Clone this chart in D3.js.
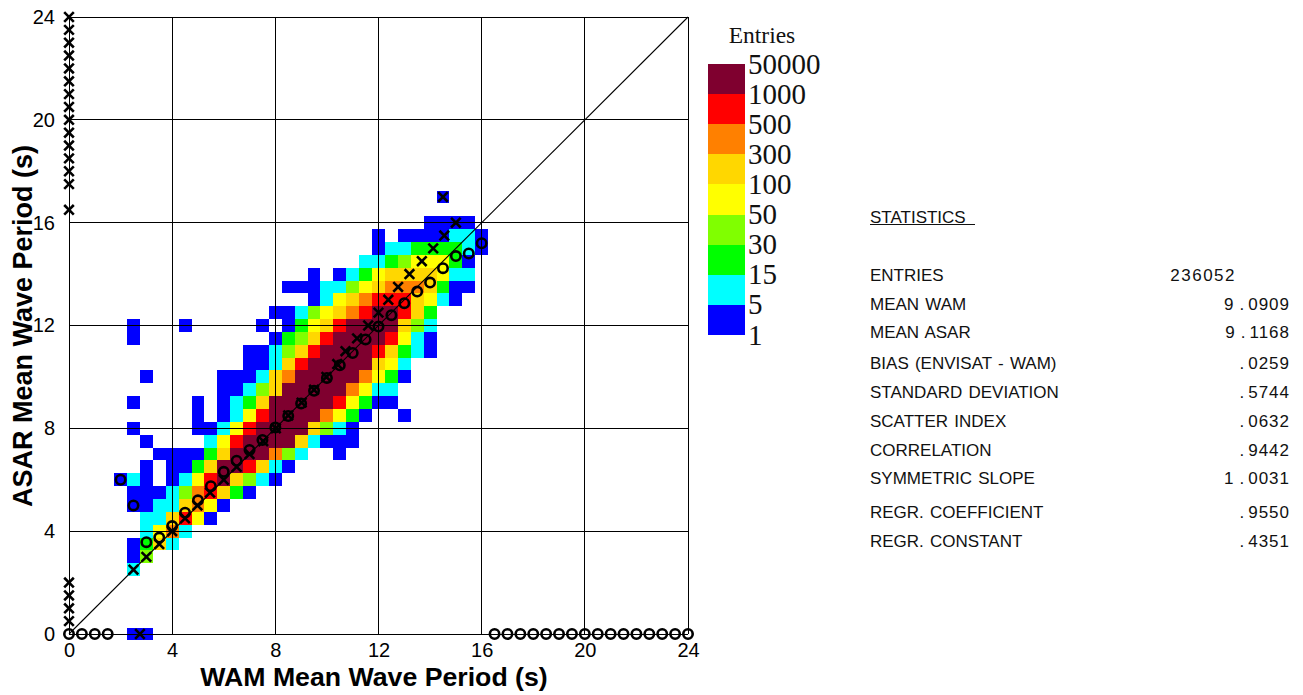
<!DOCTYPE html>
<html><head><meta charset="utf-8">
<script src="https://cdn.jsdelivr.net/npm/d3@7"></script>
<style>html,body{margin:0;padding:0;background:#fff;overflow:hidden}svg{display:block}</style>
</head><body><svg id="c" width="1303" height="695"></svg>
<script>
// Level of each 0.5 s bin: 0 = empty, 1..9 = legend band from the bottom. [ASAR period, first WAM period, levels]
const heatRows = [
 [0,   2.5, [1,1]],
 [2.5, 2.5, [2]],
 [3,   2.5, [1,4]],
 [3.5, 2.5, [1,3,6,2]],
 [4,   3,   [2,5,7,2]],
 [4.5, 3,   [2,2,6,8,5,1]],
 [5,   2.5, [1,1,2,2,6,7,5,1]],
 [5.5, 2.5, [1,1,1,2,4,7,8,6,3,1]],
 [6,   2,   [1,2,1,0,1,2,5,8,9,6,4,2,1]],
 [6.5, 3,   [1,0,1,1,3,6,9,9,8,6,2,1]],
 [7,   3.5, [1,1,1,1,3,6,9,9,9,7,4,2,0,0,1]],
 [7.5, 3,   [1,0,0,0,0,2,5,8,9,9,9,9,6,2,1,1,1]],
 [8,   2.5, [1,0,0,0,0,1,1,2,5,8,9,9,9,9,6,4,2,1]],
 [8.5, 5,   [1,0,1,2,5,8,9,9,9,9,7,5,3,1,0,0,1]],
 [9,   2.5, [1,0,0,0,0,1,0,1,2,3,6,9,9,9,9,9,8,5,3,1,1]],
 [9.5, 6,   [1,1,2,4,6,9,9,9,9,9,7,5,2,2]],
 [10,  3,   [1,0,0,0,0,0,1,1,1,2,6,7,9,9,9,9,9,7,5,3,1]],
 [10.5,7,   [1,1,2,6,8,9,9,9,9,9,6,5,2]],
 [11,  7,   [1,1,2,4,6,8,9,9,9,9,8,6,3,2,1]],
 [11.5,2.5, [1,0,0,0,0,0,0,0,0,0,0,1,3,4,6,8,9,9,9,9,8,5,2,1]],
 [12,  2.5, [1,0,0,0,1,0,0,0,0,0,1,0,1,3,5,6,8,9,9,9,9,6,4,2]],
 [12.5,8,   [1,1,2,4,5,6,7,8,9,9,8,6,3]],
 [13,  9.5, [1,2,5,6,7,8,8,8,6,5,2,1]],
 [13.5,8.5, [1,1,1,2,2,4,5,6,7,7,7,6,3,1,1]],
 [14,  9.5, [1,0,1,2,3,5,6,6,6,6,5,2,2]],
 [14.5,11.5,[2,2,3,4,5,5,5,3,1]],
 [15,  12,  [1,2,2,3,3,3,3,2,1]],
 [15.5,12,  [1,0,1,1,1,1,2,2,1]],
 [16,  14,  [1,1,1,1]],
 [17,  14.5,[1]]
];
const legendLabels = ["50000","1000","500","300","100","50","30","15","5","1"];
const legendColors = ["#7f002f","#ff0000","#ff8000","#ffd700","#ffff00","#80ff00","#00ff00","#00ffff","#0000ff"];
const axisTicks = [0,4,8,12,16,20,24];
// mean ASAR per WAM bin (circles)
const circleX = [0,0.5,1,1.5,2,2.5,3,3.5,4,4.5,5,5.5,6,6.5,7,7.5,8,8.5,9,9.5,10,10.5,11,11.5,12,12.5,13,13.5,14,14.5,15,15.5,16,16.5,17,17.5,18,18.5,19,19.5,20,20.5,21,21.5,22,22.5,23,23.5,24];
const circleY = [0,0,0,0,6,5,3.57,3.75,4.2,4.72,5.2,5.75,6.31,6.74,7.16,7.55,8.03,8.48,8.97,9.46,9.96,10.45,10.93,11.46,11.96,12.4,12.87,13.32,13.67,14.23,14.7,14.8,15.2,0,0,0,0,0,0,0,0,0,0,0,0,0,0,0,0];
// mean WAM per ASAR bin (crosses)
const crossY = [0,0.5,1,1.5,2,2.5,3,3.5,4,4.5,5,5.5,6,6.5,7,7.5,8,8.5,9,9.5,10,10.5,11,11.5,12,12.5,13,13.5,14,14.5,15,15.5,16,16.5,17,17.5,18,18.5,19,19.5,20,20.5,21,21.5,22,22.5,23,23.5,24];
const crossX = [2.75,0,0,0,0,2.5,3,3.5,4,4.5,4.98,5.47,6,6.5,7,7.53,8.02,8.5,9.02,9.5,9.98,10.4,10.72,11.17,11.6,12,12.38,12.76,13.2,13.68,14.12,14.55,15,0,14.5,0,0,0,0,0,0,0,0,0,0,0,0,0,0];
const statLabels = ["ENTRIES","MEAN WAM","MEAN ASAR","BIAS (ENVISAT - WAM)","STANDARD DEVIATION","SCATTER INDEX","CORRELATION","SYMMETRIC SLOPE","REGR. COEFFICIENT","REGR. CONSTANT"];
const statValues = ["236052","9.0909","9.1168",".0259",".5744",".0632",".9442","1.0031",".9550",".4351"];

const svg = d3.select("#c");
const x = d3.scaleLinear().domain([0,24]).range([69,688]);
const y = d3.scaleLinear().domain([0,24]).range([634,17]);
const sans = "'Liberation Sans',Arial,sans-serif", serif = "'Liberation Serif','Times New Roman',serif";
const bandColor = d3.scaleOrdinal().domain([9,8,7,6,5,4,3,2,1]).range(legendColors);

// heat cells, centred on the bin value
const cells = heatRows.flatMap(([v,x0,lv]) => lv.map((l,k)=>({xv:x0+k*0.5,yv:v,l})).filter(d=>d.l>0));
svg.append("g").attr("shape-rendering","crispEdges").selectAll("rect").data(cells).join("rect")
  .attr("x",d=>x(d.xv-0.25)).attr("width",d=>x(d.xv+0.25)-x(d.xv-0.25))
  .attr("y",d=>y(d.yv+0.25)).attr("height",d=>y(d.yv-0.25)-y(d.yv+0.25))
  .attr("fill",d=>bandColor(d.l));

// grid + frame
const gridG = svg.append("g").attr("stroke","#000").attr("stroke-width",1).attr("shape-rendering","crispEdges");
gridG.selectAll(".v").data(axisTicks).join("line").attr("x1",d=>x(d)).attr("x2",d=>x(d)).attr("y1",y(0)).attr("y2",y(24));
gridG.selectAll(".h").data(axisTicks).join("line").attr("y1",d=>y(d)).attr("y2",d=>y(d)).attr("x1",x(0)).attr("x2",x(24));
svg.append("line").attr("x1",x(0)).attr("y1",y(0)).attr("x2",x(24)).attr("y2",y(24)).attr("stroke","#000").attr("stroke-width",1.1);

// axes (labels only)
const xAxis = d3.axisBottom(x).tickValues(axisTicks).tickSize(0).tickPadding(9);
const yAxis = d3.axisLeft(y).tickValues(axisTicks).tickSize(0).tickPadding(14);
for (const [ax,tr] of [[xAxis,`translate(0,${y(0)})`],[yAxis,`translate(${x(0)},0)`]]) {
  const g = svg.append("g").attr("transform",tr).call(ax);
  g.select(".domain").remove();
  g.selectAll("text").attr("font-family",sans).attr("font-size",20).attr("fill","#000");
}
svg.append("text").attr("x",374).attr("y",686).attr("text-anchor","middle").attr("font-family",sans).attr("font-weight","bold").attr("font-size",26.7).text("WAM Mean Wave Period (s)");
svg.append("text").attr("transform","translate(32,326) rotate(-90)").attr("text-anchor","middle").attr("font-family",sans).attr("font-weight","bold").attr("font-size",27).text("ASAR Mean Wave Period (s)");

// markers
const mk = svg.append("g").attr("fill","none").attr("stroke","#000").attr("stroke-width",2.6);
mk.selectAll("circle").data(circleX.map((v,i)=>[v,circleY[i]])).join("circle")
  .attr("cx",d=>x(d[0])).attr("cy",d=>y(d[1])).attr("r",4.7);
const arm = 4.8;
mk.selectAll("path").data(crossX.map((v,i)=>[v,crossY[i]])).join("path")
  .attr("d",d=>{const a=x(d[0]),b=y(d[1]);return `M${a-arm},${b-arm}L${a+arm},${b+arm}M${a-arm},${b+arm}L${a+arm},${b-arm}`;});

// legend
const lg = svg.append("g");
const bandY = d3.scaleBand().domain(d3.range(9)).range([64,335]).paddingInner(0);
lg.append("g").attr("shape-rendering","crispEdges").selectAll("rect").data(legendColors).join("rect")
  .attr("x",708).attr("width",37).attr("y",(d,i)=>bandY(i)).attr("height",bandY.bandwidth()).attr("fill",d=>d);
lg.selectAll("text.l").data(legendLabels).join("text").attr("class","l")
  .attr("x",748).attr("y",(d,i)=>bandY(0)+i*bandY.bandwidth()+9.5)
  .attr("font-family",serif).attr("font-size",29).attr("fill","#111").text(d=>d);
lg.append("text").attr("x",762).attr("y",43).attr("text-anchor","middle").attr("font-family",serif).attr("font-size",23.5).attr("fill","#111").text("Entries");

// statistics
const stY = [275,304,332,363,392,421,450,478,512,541];
const st = svg.append("g").attr("font-family",sans).attr("font-size",17).attr("fill","#111");
st.append("text").attr("x",870).attr("y",223).text("STATISTICS");
st.append("line").attr("x1",870).attr("x2",975).attr("y1",224).attr("y2",224).attr("stroke","#111").attr("stroke-width",1).attr("shape-rendering","crispEdges");
st.selectAll("text.k").data(statLabels).join("text").attr("class","k").attr("x",870).attr("y",(d,i)=>stY[i]+6).attr("word-spacing",1.5).text(d=>d);
st.selectAll("text.v").data(statValues).join("text").attr("class","v")
  .attr("x",(d,i)=>i===0?1236:1290).attr("y",(d,i)=>stY[i]+6).attr("text-anchor","end")
  .attr("letter-spacing",(d,i)=>i===0?1.5:1)
  .each(function(d){
    const t = d3.select(this), p = d.indexOf(".");
    if (p < 0) { t.text(d); return; }
    if (p > 0) t.append("tspan").text(d.slice(0,p));
    t.append("tspan").attr("dx",p>0?5:0).attr("letter-spacing",4).text(".");
    t.append("tspan").text(d.slice(p+1));
  });
</script></body></html>
